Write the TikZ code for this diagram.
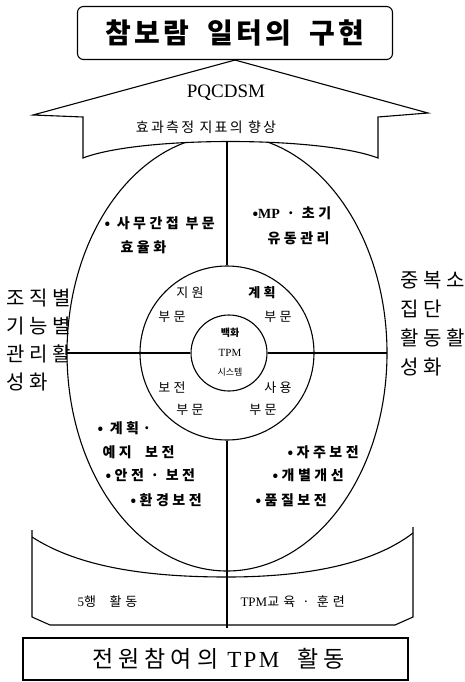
\documentclass[tikz,border=0pt]{standalone}
\usepackage{fontspec}
\setmainfont{Liberation Serif}
\newfontfamily\kr{Noto Sans CJK KR}
\usetikzlibrary{positioning}

\begin{document}
\begin{tikzpicture}[
  x=1pt, y=-1pt,
  line width=1.1pt,
  titlebox/.style={draw, rounded corners=6pt, minimum width=315pt, minimum height=53pt,
    font=\kr\bfseries\fontsize{28}{30}\selectfont\addfontfeatures{LetterSpace=12}},
  basebox/.style={draw, minimum width=385pt, minimum height=42pt, font=\fontsize{23}{26}\selectfont},
  disc/.style={draw, circle, inner sep=0pt},
  side/.style={anchor=west, inner sep=0pt, font=\kr\fontsize{20}{22}\selectfont\addfontfeatures{LetterSpace=22}},
  item/.style={anchor=west, inner sep=0pt, font=\kr\bfseries\fontsize{14}{16}\selectfont\addfontfeatures{LetterSpace=25}},
  part/.style={inner sep=0pt, font=\kr\fontsize{13}{15}\selectfont\addfontfeatures{LetterSpace=25}}
]
\useasboundingbox (0,0) rectangle (464,682);

\node[titlebox] (goal) at (235,33) {참보람\hspace{.3em} 일터의\hspace{.3em} 구현};

% ellipse and its cross
\draw (227,353) ellipse [x radius=160pt, y radius=218pt];
\coordinate (eW) at (67,353);
\coordinate (eE) at (387,353);
\node[disc, minimum size=174pt] (ring) at (227,353) {};
\node[disc, fill=white, minimum size=76pt] (core) at (229,353) {};
\draw (eW) -- (core.west);
\draw (core.east) -- (eE);

% upward arrow
\draw[fill=white] (goal.south) -- (33,115) -- (83,117) -- (83,158)
  .. controls (140,136) and (320,136) .. (378,158) -- (378,117) -- (428,113) -- cycle;
\coordinate (aB) at (227,142);
\draw (aB) -- (ring.north);
\node[font=\fontsize{19}{20}\selectfont] (pq) at (226,93) {PQCDSM};
\node[font=\kr\fontsize{14}{16}\selectfont\addfontfeatures{LetterSpace=16}] (kpi) at (206,127) {효과측정 지표의 향상};

% base
\draw (32,530) -- (32,617) -- (50,625) -- (395,625) -- (413,617) -- (413,527);
\draw (32,537) .. controls (80,568) and (150,577) .. (227,577)
  .. controls (300,577) and (370,566) .. (413,533);
\coordinate (bB) at (227,628);
\draw (ring.south) -- (bB);
\node[item, font=\kr\fontsize{13}{14}\selectfont\addfontfeatures{LetterSpace=30}] (five) at (77,602) {{\rmfamily 5}행\ \ 활동};
\node[item, font=\kr\fontsize{13}{14}\selectfont\addfontfeatures{LetterSpace=32}] (edu) at (240,602) {{\rmfamily TPM}교육 · 훈련};

\node[basebox] (all) at (215.5,659)
  {\hspace{6pt}{\kr\addfontfeatures{LetterSpace=22}전원참여의}\hspace{9pt}{\addfontfeatures{LetterSpace=10}TPM}\hspace{18pt}{\kr\addfontfeatures{LetterSpace=22}활동}};

% side labels
\foreach \w [count=\i] in {조직별,기능별,관리활,성화}
  \node[side] (L\i) at (6,{298+28*(\i-1)}) {\w};
\foreach \w [count=\i] in {중복소,집단,활동활,성화}
  \node[side] (R\i) at (400,{280+29*(\i-1)}) {\w};

% quadrants
\node[item] (q1a) at (104,223) {• 사무간접 부문};
\node[item] (q1b) at (120,247) {효율화};
\node[item] (q2a) at (252,213) {•{\rmfamily MP} · 초기};
\node[item] (q2b) at (267,238) {유동관리};
\node[item] (q3a) at (97,428) {• 계획·};
\node[item] (q3b) at (102,452) {예지 \ 보전};
\node[item] (q3c) at (105,475) {•안전 · 보전};
\node[item] (q3d) at (130,500) {•환경보전};
\node[item] (q4a) at (287,452) {•자주보전};
\node[item] (q4b) at (272,475) {•개별개선};
\node[item] (q4c) at (255,500) {•품질보전};

% ring parts
\node[part] (p1) at (190,293) {지원};
\node[part, font=\kr\bfseries\fontsize{13}{15}\selectfont\addfontfeatures{LetterSpace=25}] (p3) at (262,293) {계획};
\node[part] (p2) at (172,317) {부문};
\node[part] (p4) at (278,317) {부문};
\node[part] (p5) at (172,388) {보전};
\node[part] (p7) at (278,388) {사용};
\node[part] (p6) at (190,410) {부문};
\node[part] (p8) at (263,410) {부문};

% core
\node[font=\kr\bfseries\fontsize{10}{12}\selectfont] (c1) at (230,333) {백화};
\node[font=\fontsize{11}{12}\selectfont] (c2) at (230,353) {TPM};
\node[font=\kr\fontsize{9}{10}\selectfont] (c3) at (230,372) {시스템};
\end{tikzpicture}
\end{document}
